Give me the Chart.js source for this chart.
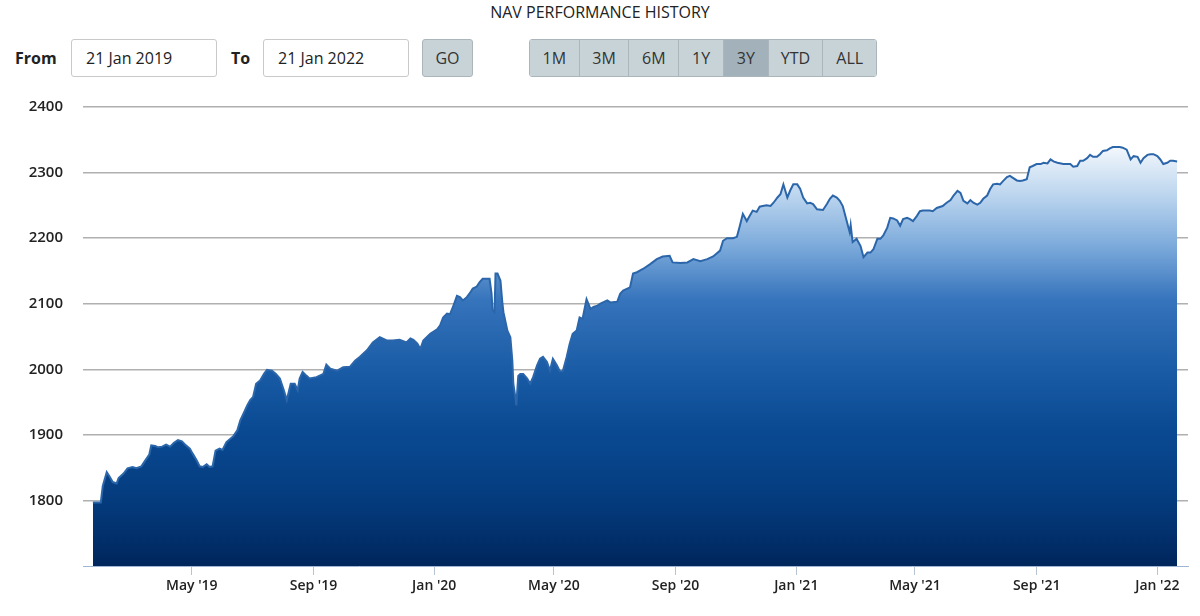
<!DOCTYPE html>
<html>
<head>
<meta charset="utf-8">
<script src="https://cdn.jsdelivr.net/npm/chart.js@4/dist/chart.umd.min.js"></script>
<style>
  html, body { margin:0; padding:0; background:#fff; width:1200px; height:616px; overflow:hidden; font-family:"Open Sans", "Noto Sans", sans-serif; color:#222; }
  #title { position:absolute; top:1px; left:0; width:1200px; text-align:center; font-size:16px; color:#222; }
  .lbl { position:absolute; top:47px; font-size:16px; font-weight:700; color:#222; }
  .inp { position:absolute; top:39px; height:36px; width:144px; border:1px solid #c9c9c9; border-radius:3px; box-sizing:content-box; font-size:16px; line-height:36px; padding:0; color:#222; }
  .inp span { position:absolute; left:14px; }
  .btn { position:absolute; top:39px; height:36px; border:1px solid #aab6bc; background:#c8d3d8; font-size:16px; line-height:36px; text-align:center; color:#333; box-sizing:content-box; }
  #grp { position:absolute; top:39px; left:529px; height:38px; border:1px solid #aab6bc; border-radius:3px; overflow:hidden; display:flex; box-sizing:border-box; width:348px; }
  #grp div { height:36px; line-height:36px; text-align:center; font-size:16px; color:#333; background:#c8d3d8; border-right:1px solid #aab6bc; box-sizing:border-box; }
  #grp div:last-child { border-right:none; }
  #grp div.act { background:#a3b2ba; }
  #cv { position:absolute; left:0; top:78px; }
</style>
</head>
<body>
<div id="title">NAV PERFORMANCE HISTORY</div>
<div class="lbl" style="left:15px;">From</div>
<div class="inp" style="left:71px;"><span>21 Jan 2019</span></div>
<div class="lbl" style="left:231px;">To</div>
<div class="inp" style="left:263px;"><span>21 Jan 2022</span></div>
<div class="btn" style="left:422px; width:49px; border-radius:3px;">GO</div>
<div id="grp"></div>
<canvas id="cv" width="1200" height="538"></canvas>
<script>
// ---- data ----
const rangeButtons = ["1M", "3M", "6M", "1Y", "3Y", "YTD", "ALL"];
const activeRange = "3Y";
const startDate = "2019-01-21";
const endDate = "2022-01-21";
// days since 21 Jan 2019
const navDays = [
  0,8,10,14,17,20,24,26,31,35,
  40,44,49,53,57,59,63,66,70,74,
  78,82,86,90,94,98,101,105,108,111,
  115,118,121,124,128,131,135,142,146,149,
  153,156,159,162,165,169,173,176,181,185,
  189,193,196,200,204,207,209,212,216,219,
  226,233,236,240,247,253,260,265,270,277,
  283,290,297,303,310,317,321,324,328,331,
  334,341,348,351,354,358,361,364,368,371,
  374,378,381,384,388,391,394,398,401,403,
  404,406,407,409,412,414,415,419,422,424,
  425,427,428,430,432,435,439,442,445,449,
  452,455,459,462,465,469,472,475,479,482,
  485,489,492,495,499,503,506,510,513,520,
  523,530,533,536,543,546,550,556,563,570,
  576,583,586,594,601,607,614,621,627,634,
  637,641,647,651,654,657,661,664,667,671,
  674,677,681,685,688,692,695,698,702,705,
  708,712,715,718,722,725,728,732,738,742,
  745,748,752,755,758,762,765,766,768,772,
  776,779,783,786,789,793,796,799,803,806,
  809,813,816,819,823,826,829,833,836,839,
  846,849,853,859,863,867,870,874,877,880,
  884,887,890,894,897,900,904,907,910,914,
  917,920,924,927,930,934,937,940,944,947,
  950,954,958,961,965,968,971,975,981,988,
  991,995,998,1001,1005,1008,1011,1015,1018,1021,
  1025,1028,1031,1035,1038,1041,1045,1049,1052,1056,
  1059,1062,1066,1069,1072,1076,1079,1082,1086,1089,
  1092,1096
];
const navValues = [
  1797,1797,1822,1843,1836,1828,1826,1834,1841,1849,
  1851,1849,1852,1861,1870,1884,1883,1881,1882,1885,
  1882,1888,1892,1890,1884,1879,1871,1861,1852,1851,
  1855,1851,1852,1876,1879,1877,1889,1898,1907,1922,
  1935,1945,1953,1958,1978,1983,1993,1999,1998,1993,
  1986,1968,1953,1978,1978,1968,1986,1996,1990,1986,
  1988,1993,2007,2001,1998,2003,2004,2013,2019,2029,
  2041,2049,2044,2044,2045,2041,2047,2045,2039,2031,
  2044,2054,2061,2067,2079,2085,2084,2095,2112,2110,
  2105,2110,2116,2123,2126,2133,2138,2138,2138,2115,
  2090,2087,2146,2146,2135,2100,2087,2059,2049,2013,
  1978,1958,1945,1990,1993,1993,1986,1978,1988,2006,
  2016,2019,2011,1998,2016,2006,1997,1997,2019,2039,
  2054,2059,2079,2077,2107,2092,2095,2097,2100,2105,
  2102,2103,2115,2120,2125,2146,2148,2153,2160,2168,
  2172,2173,2163,2162,2163,2168,2165,2168,2172,2181,
  2196,2200,2200,2202,2219,2237,2226,2234,2242,2240,
  2248,2249,2250,2249,2254,2262,2267,2282,2262,2273,
  2282,2282,2275,2262,2253,2254,2252,2244,2243,2252,
  2260,2265,2262,2257,2249,2226,2209,2220,2194,2199,
  2188,2171,2178,2178,2183,2199,2199,2204,2216,2231,
  2230,2227,2219,2229,2231,2229,2226,2234,2241,2242,
  2242,2241,2246,2249,2254,2258,2265,2272,2269,2257,
  2253,2258,2254,2251,2254,2260,2265,2275,2282,2283,
  2282,2287,2293,2295,2292,2288,2287,2288,2290,2308,
  2310,2313,2313,2315,2314,2320,2317,2315,2313,2313,
  2309,2310,2318,2318,2322,2327,2324,2324,2328,2333,
  2334,2337,2339,2339,2339,2338,2335,2320,2325,2324,
  2315,2322,2327,2328,2328,2325,2320,2313,2315,2318,
  2318,2317
];
const xTickDates = ["2019-05-01","2019-09-01","2020-01-01","2020-05-01","2020-09-01","2021-01-01","2021-05-01","2021-09-01","2022-01-01"];
const xTickLabels = ["May '19","Sep '19","Jan '20","May '20","Sep '20","Jan '21","May '21","Sep '21","Jan '22"];
const yTicks = [1800, 1900, 2000, 2100, 2200, 2300, 2400];
const yMin = 1700, yMax = 2400;

// ---- build ----
const grp = document.getElementById('grp');
const widths = {"1M":50,"3M":50,"6M":50,"1Y":45,"3Y":45,"YTD":55,"ALL":53};
rangeButtons.forEach(b => {
  const d = document.createElement('div');
  d.textContent = b;
  d.style.width = widths[b] + 'px';
  if (b === activeRange) d.className = 'act';
  grp.appendChild(d);
});

const DAY = 86400000;
const t0 = Date.parse(startDate + "T00:00:00Z");
const span = (Date.parse(endDate + "T00:00:00Z") - t0) / DAY;
const tickDays = xTickDates.map(s => (Date.parse(s + "T00:00:00Z") - t0) / DAY);
const points = navDays.map((d, i) => ({ x: d, y: navValues[i] }));

function areaGradient(context) {
  const chart = context.chart;
  const area = chart.chartArea;
  if (!area) return '#0a4a93';
  const top = chart.scales.y.getPixelForValue(2355);
  const g = chart.ctx.createLinearGradient(0, top, 0, area.bottom);
  g.addColorStop(0.00, '#ffffff');
  g.addColorStop(0.14, '#bad4ee');
  g.addColorStop(0.26, '#79a8da');
  g.addColorStop(0.38, '#3674bc');
  g.addColorStop(0.54, '#1a5ca6');
  g.addColorStop(0.68, '#0a4a93');
  g.addColorStop(0.85, '#043b7d');
  g.addColorStop(1.00, '#00265c');
  return g;
}

new Chart(document.getElementById('cv'), {
  type: 'line',
  data: {
    datasets: [{
      data: points,
      borderColor: '#2c66aa',
      borderWidth: 2,
      pointRadius: 0,
      tension: 0,
      fill: 'start',
      backgroundColor: areaGradient
    }]
  },
  options: {
    responsive: false,
    animation: false,
    devicePixelRatio: 1,
    layout: { padding: { top: 4, right: 12, left: 0, bottom: 0 } },
    plugins: { legend: { display: false }, tooltip: { enabled: false } },
    scales: {
      x: {
        type: 'linear',
        min: -10,
        max: span + 11,
        afterBuildTicks: s => { s.ticks = tickDays.map(v => ({ value: v })); },
        afterFit: s => { s.height = 50; },
        ticks: {
          autoSkip: false, maxRotation: 0, padding: 3,
          color: '#222',
          font: { family: '"Open Sans", sans-serif', size: 14, weight: '600' },
          callback: (v, i) => xTickLabels[i]
        },
        grid: { drawOnChartArea: false, drawTicks: true, tickLength: 9, color: '#b8c4d4', lineWidth: 1 },
        border: { display: true, color: '#9fb6d4', width: 1 }
      },
      y: {
        min: yMin, max: yMax,
        afterBuildTicks: s => { s.ticks = yTicks.map(v => ({ value: v })); },
        afterFit: s => { s.width = 83; },
        ticks: {
          padding: 20,
          color: '#222',
          font: { family: '"Open Sans", sans-serif', size: 15, weight: '600' },
          callback: v => String(v)
        },
        grid: { drawTicks: false, color: '#b0b0b0', lineWidth: 1.5 },
        border: { display: false }
      }
    }
  }
});
</script>
</body>
</html>
